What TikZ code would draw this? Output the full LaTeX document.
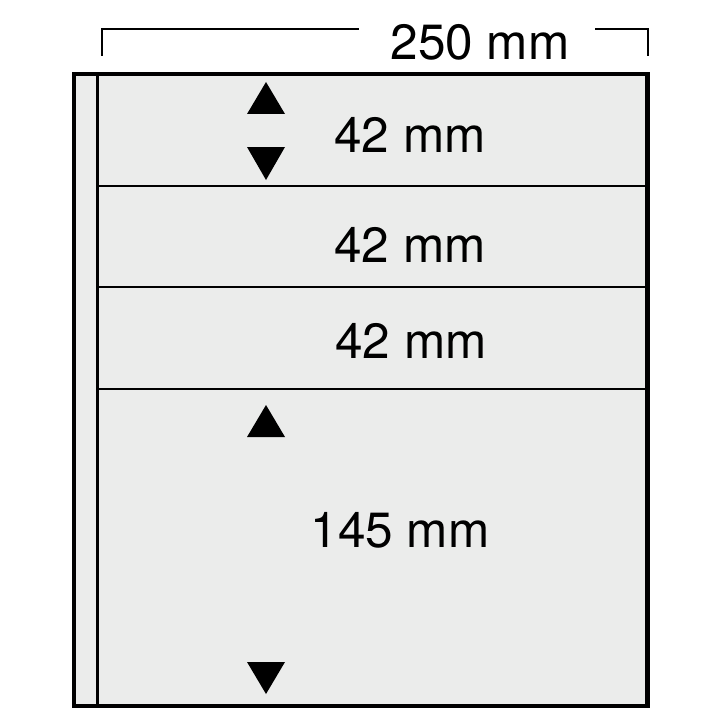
\documentclass[tikz,border=0pt]{standalone}
\usepackage{fontspec}
\setmainfont{TeX Gyre Heros}
\definecolor{sheetgray}{RGB}{235,236,235}
\tikzset{
  mmlabel/.style={anchor=base, inner sep=0pt, font=\fontsize{49.5bp}{58bp}\selectfont},
  pocketline/.style={black, line width=2pt},
}
\begin{document}
\begin{tikzpicture}[x=1bp, y=-1bp]
            \useasboundingbox (0,0) rectangle (720,720);

            % sheet
            \fill[sheetgray] (74,74) rectangle (647,706);
            \draw[black, line width=4pt] (97.5,74) -- (97.5,706);

            \draw[pocketline] (97,186) -- (647,186);
            \draw[pocketline] (97,287) -- (647,287);
            \draw[pocketline] (97,389) -- (647,389);

            % width bracket
            \draw[black, line width=2.5pt] (102,56) -- (102,29) -- (359,29);
            \draw[black, line width=2.5pt] (595,29) -- (648,29) -- (648,56);
            \node[mmlabel] (width) at (480,60) {250 mm};

            % arrows
            \fill[black] (247,114) -- (266,82) -- (285,114) -- cycle;
            \fill[black] (247,147) -- (285,147) -- (266,180) -- cycle;
            \fill[black] (247,437) -- (266,405) -- (285,437) -- cycle;
            \fill[black] (247,662) -- (285,662) -- (266,694) -- cycle;

            \node[mmlabel] (pocketA) at (410,152) {42 mm};
            \node[mmlabel] (pocketB) at (410,262) {42 mm};
            \node[mmlabel] (pocketC) at (411,358) {42 mm};
            \node[mmlabel] (pocketD) at (400,547) {145 mm};

            \draw[black, line width=5pt] (74,74) rectangle (647,706);
\end{tikzpicture}
\end{document}
